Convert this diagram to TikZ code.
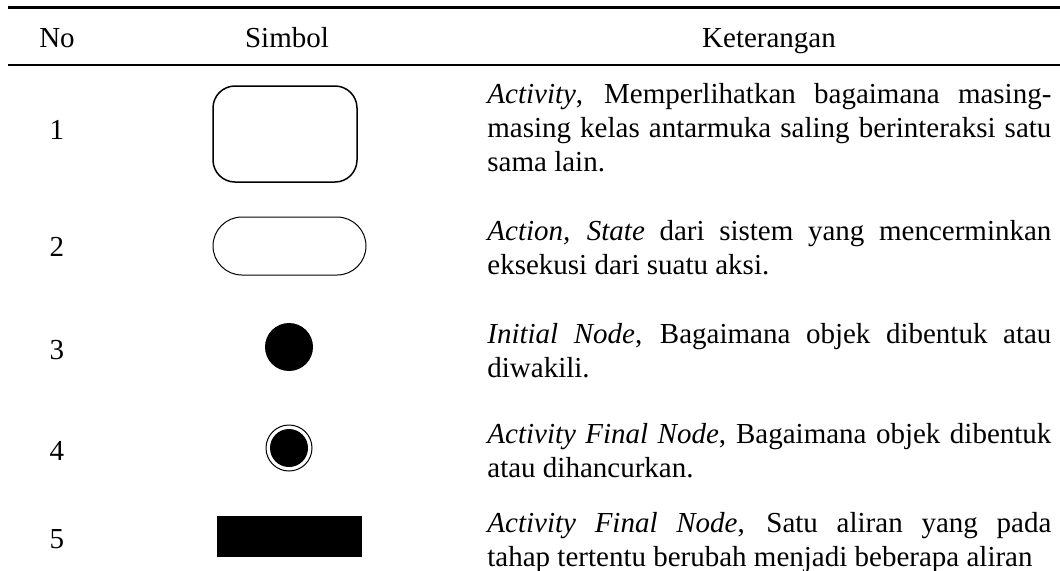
\documentclass[tikz,border=0pt]{standalone}
\usepackage{fontspec}
\setmainfont{Liberation Serif}

\tikzset{
  teks/.style={inner sep=0pt, font=\fontsize{14.5}{17}\selectfont},
  nomor/.style={teks, anchor=base},
  ket/.style={teks, anchor=base west, text width=282pt, align=justify,
    execute at begin node={\hyphenpenalty=10000\tolerance=10000}},
  simbol/.style={inner sep=0pt, outer sep=0pt},
  aktivitas/.style={simbol, draw, line width=0.75pt, rectangle, rounded corners=11pt,
    minimum width=72pt, minimum height=48pt},
  aksi/.style={simbol, draw, line width=0.5pt, rectangle, rounded corners=14.5pt,
    minimum width=76.5pt, minimum height=29pt},
  awal/.style={simbol, circle, fill=black, minimum size=24pt},
  akhir/.style={simbol, circle, draw, line width=0.5pt, minimum size=23pt},
  garpu/.style={simbol, rectangle, fill=black, minimum width=72.5pt, minimum height=20.5pt},
}

\begin{document}
\begin{tikzpicture}[x=0.5pt,y=-0.5pt]
\useasboundingbox (0,0) rectangle (1060,570);

\draw[line width=1.3pt] (8,7.5) -- (1060,7.5);
\draw[line width=1.3pt] (8,65) -- (1060,65);

\node[nomor] (hno) at (57,47) {No};
\node[nomor] (hsimbol) at (287,47) {Simbol};
\node[nomor] (hket) at (769,47) {Keterangan};

\foreach \n/\y in {1/139, 2/256, 3/359, 4/460, 5/548}
  \node[nomor] (no\n) at (57,\y) {\n};

% simbol
\node[aktivitas] (simbol1) at (285,134) {};
\node[aksi] (simbol2) at (289.5,246) {};
\node[awal] (simbol3) at (289,347) {};
\node[akhir] (simbol4) at (289,448) {};
\node[awal, minimum size=19pt] (simbol4isi) at (simbol4) {};
\node[garpu] (simbol5) at (289.5,536.5) {};

% keterangan
\node[ket] (ket1) at (487,103) {\textit{Activity}, Memperlihatkan bagaimana masing-\linebreak masing kelas antarmuka saling berinteraksi satu\linebreak sama lain.};
\node[ket] (ket2) at (487,240) {\textit{Action, State} dari sistem yang mencerminkan\linebreak eksekusi dari suatu aksi.};
\node[ket] (ket3) at (487,343) {\textit{Initial Node}, Bagaimana objek dibentuk atau\linebreak diwakili.};
\node[ket] (ket4) at (487,443) {\textit{Activity Final Node}, Bagaimana objek dibentuk\linebreak atau dihancurkan.};
\node[ket] (ket5) at (487,532) {\textit{Activity Final Node}, Satu aliran yang pada\linebreak tahap tertentu berubah menjadi beberapa aliran};

\end{tikzpicture}
\end{document}
